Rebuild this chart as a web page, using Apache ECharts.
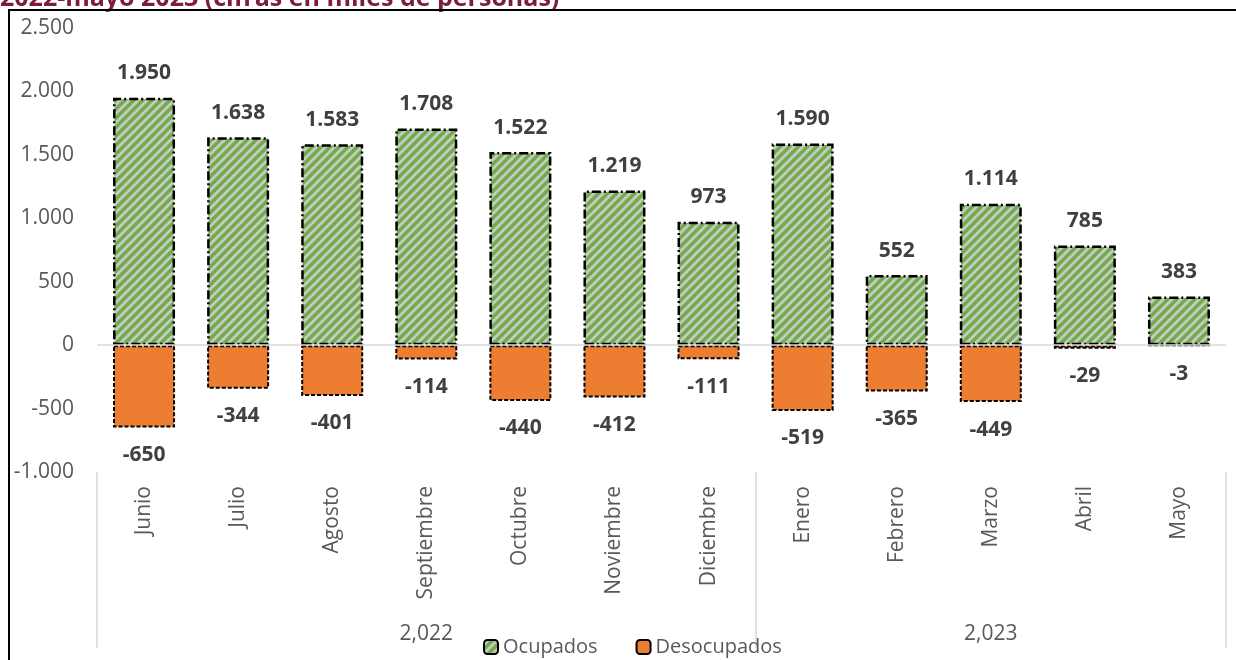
<!DOCTYPE html>
<html>
<head>
<meta charset="utf-8">
<script src="https://cdn.jsdelivr.net/npm/echarts@6/dist/echarts.min.js"></script>
<style>
  html, body { margin: 0; padding: 0; background: #fff; }
  #main { width: 1236px; height: 660px; }
</style>
</head>
<body>
<div id="main"></div>
<script>
// datos
const meses = ['Junio', 'Julio', 'Agosto', 'Septiembre', 'Octubre', 'Noviembre', 'Diciembre',
  'Enero', 'Febrero', 'Marzo', 'Abril', 'Mayo'];
const anios = ['2,022', '2,023'];
const inicioAnio = [0, 7]; // indice del primer mes de cada año
const ocupados = [1950, 1638, 1583, 1708, 1522, 1219, 973, 1590, 552, 1114, 785, 383];
const desocupados = [-650, -344, -401, -114, -440, -412, -111, -519, -365, -449, -29, -3];

const fuente = '"Open Sans", sans-serif';

function fmt(v) {
  const s = Math.abs(v).toString().replace(/\B(?=(\d{3})+(?!\d))/g, '.');
  return (v < 0 ? '-' : '') + s;
}

// trama de rayas verdes sobre gris
function trama() {
  const n = 9;
  const c = document.createElement('canvas');
  c.width = n; c.height = n;
  const ctx = c.getContext('2d');
  ctx.fillStyle = '#c8c8c8';
  ctx.fillRect(0, 0, n, n);
  ctx.strokeStyle = '#70ad47';
  ctx.lineWidth = 3.6;
  [[-n, n, n, -n], [0, n, n, 0], [0, 2 * n, 2 * n, 0]].forEach(function (l) {
    ctx.beginPath();
    ctx.moveTo(l[0], l[1]);
    ctx.lineTo(l[2], l[3]);
    ctx.stroke();
  });
  return c;
}

// etiqueta del año en el mes central de su grupo
const centroAnio = {};
inicioAnio.forEach(function (ini, i) {
  const fin = i + 1 < inicioAnio.length ? inicioAnio[i + 1] : meses.length;
  centroAnio[Math.floor((ini + fin - 1) / 2)] = anios[i];
});

let myChart = echarts.init(document.getElementById('main'));

let option = {
  animation: false,
  backgroundColor: '#fff',
  textStyle: { fontFamily: fuente },
  graphic: [
    {
      type: 'text', left: 0, top: -14,
      style: {
        text: '2022-mayo 2023 (cifras en miles de personas)',
        font: 'bold 25px ' + fuente, fill: '#7b1e3c'
      }
    },
    {
      type: 'line', z: 10,
      shape: { x1: 8, y1: 10, x2: 1236, y2: 10 },
      style: { stroke: '#000', lineWidth: 2 }
    },
    {
      type: 'line', z: 10,
      shape: { x1: 9, y1: 10, x2: 9, y2: 660 },
      style: { stroke: '#000', lineWidth: 2 }
    }
  ],
  grid: { left: 97, right: 10, top: 28, bottom: 188 },
  legend: {
    left: 478, top: 632,
    itemWidth: 14, itemHeight: 14, itemGap: 38,
    textStyle: { fontSize: 20, color: '#595959', fontFamily: fuente },
    data: ['Ocupados', 'Desocupados']
  },
  xAxis: [
    {
      type: 'category',
      data: meses,
      axisLine: { show: false, onZero: false },
      axisTick: {
        show: true, length: 176,
        interval: function (i) { return inicioAnio.indexOf(i) >= 0; },
        lineStyle: { color: '#d9d9d9', width: 1.5 }
      },
      axisLabel: {
        rotate: 90, margin: 14, interval: 0,
        fontSize: 21, color: '#595959', fontFamily: fuente
      }
    },
    {
      type: 'category',
      data: meses,
      position: 'bottom',
      offset: 146,
      axisLine: { show: false },
      axisTick: { show: false },
      axisLabel: {
        interval: 0, margin: 6,
        fontSize: 21, color: '#595959', fontFamily: fuente,
        formatter: function (v, i) { return centroAnio[i] || ''; }
      }
    }
  ],
  yAxis: {
    type: 'value',
    min: -1000, max: 2500, interval: 500,
    splitLine: { show: false },
    axisLine: { show: false },
    axisTick: { show: false },
    axisLabel: {
      margin: 23, fontSize: 21, color: '#595959', fontFamily: fuente,
      formatter: fmt
    }
  },
  series: [
    {
      name: 'Ocupados',
      type: 'bar',
      data: ocupados,
      barWidth: 62,
      barGap: '-100%',
      itemStyle: {
        color: { image: trama(), repeat: 'repeat' },
        borderColor: '#000', borderWidth: 2.5,
        borderType: [9, 3, 2, 3]
      },
      label: {
        show: true, position: 'outside', distance: 14,
        fontSize: 21, fontWeight: 'bold', color: '#404040', fontFamily: fuente,
        formatter: function (p) { return fmt(p.value); }
      },
      markLine: {
        silent: true, symbol: 'none', label: { show: false },
        lineStyle: { color: '#d9d9d9', width: 1.5, type: 'solid' },
        data: [{ yAxis: 0 }]
      }
    },
    {
      name: 'Desocupados',
      type: 'bar',
      data: desocupados,
      barWidth: 62,
      itemStyle: {
        color: '#ed7d31',
        borderColor: '#000', borderWidth: 2,
        borderType: [4, 2]
      },
      label: {
        show: true, position: 'outside', distance: 17,
        fontSize: 21, fontWeight: 'bold', color: '#404040', fontFamily: fuente,
        formatter: function (p) { return fmt(p.value); }
      }
    }
  ]
};

myChart.setOption(option);
</script>
</body>
</html>
